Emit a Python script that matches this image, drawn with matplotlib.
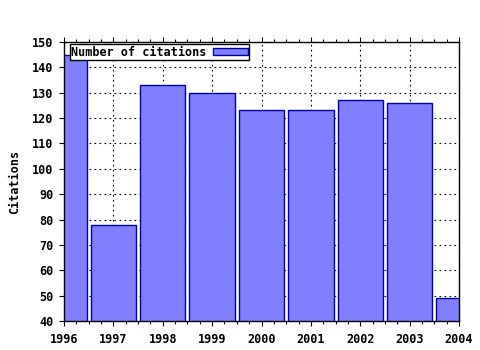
import matplotlib
matplotlib.use("Agg")
import matplotlib.pyplot as plt
from matplotlib.ticker import MultipleLocator

# Data
years = [1996, 1997, 1998, 1999, 2000, 2001, 2002, 2003, 2004]
citations = [145, 78, 133, 130, 123, 123, 127, 126, 49]
year_ticks = [1996, 1997, 1998, 1999, 2000, 2001, 2002, 2003, 2004]
citation_ticks = [40, 50, 60, 70, 80, 90, 100, 110, 120, 130, 140, 150]

plt.rcParams["font.family"] = "DejaVu Sans Mono"
plt.rcParams["font.weight"] = "bold"
plt.rcParams["axes.labelweight"] = "bold"

fig = plt.figure(figsize=(4.8, 3.5), dpi=100)
ax = fig.add_axes([64 / 480, 1 - 321 / 350, (459 - 64) / 480, (321 - 42) / 350])

ax.bar(years, citations, width=0.92, color="#8080ff", edgecolor="#0000a0",
       linewidth=1.0, label="Number of citations", zorder=2)

ax.set_xlim(1996, 2004)
ax.set_ylim(40, 150)
ax.set_xticks(year_ticks)
ax.set_yticks(citation_ticks)
ax.xaxis.set_minor_locator(MultipleLocator(0.25))
ax.tick_params(axis="x", which="both", direction="out", top=True,
               labelsize=8.5, width=0.8, color="black", pad=5)
ax.tick_params(axis="y", which="both", direction="out", right=False,
               labelsize=8.5, width=0.8, color="black", pad=4)
ax.tick_params(which="major", length=3.5)
ax.tick_params(which="minor", length=2)
ax.grid(True, which="major", linestyle=(0, (1.5, 3)), color="black",
        linewidth=0.8, zorder=1)
ax.set_axisbelow(True)
for s in ax.spines.values():
    s.set_linewidth(1.0)

ax.set_ylabel("Citations", fontsize=8.5, labelpad=8)

leg = ax.legend(loc="upper left", bbox_to_anchor=(0.015, 0.992), frameon=True,
                fancybox=False, framealpha=1, edgecolor="black",
                fontsize=8.5, borderpad=0.12, handlelength=3.0,
                handleheight=0.6, borderaxespad=0.0, markerfirst=False,
                handletextpad=0.5)
leg.get_frame().set_linewidth(1.0)

fig.savefig("out.png", dpi=100)
